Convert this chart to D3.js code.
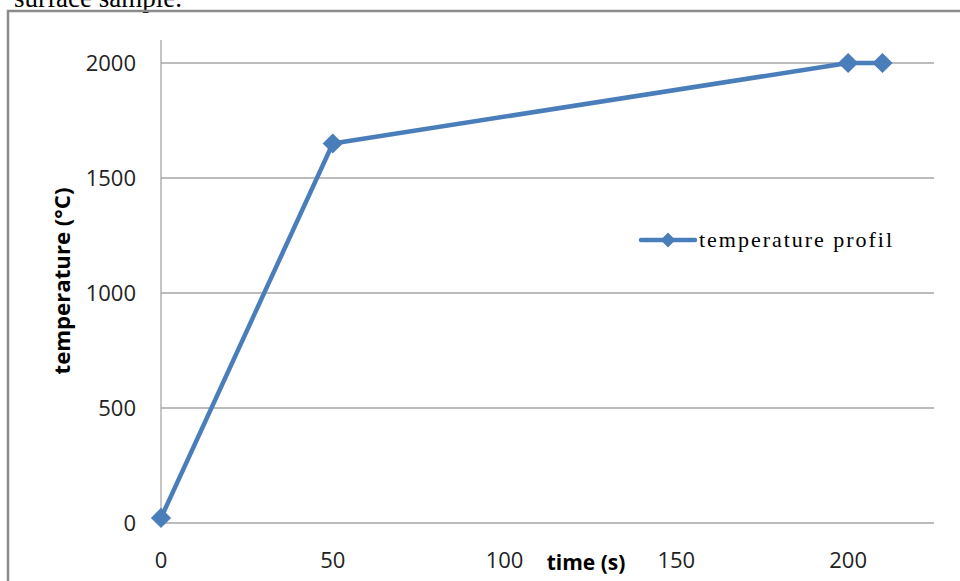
<!DOCTYPE html>
<html><head><meta charset="utf-8">
<script src="https://cdn.jsdelivr.net/npm/d3@7"></script>
<style>body{margin:0;background:#fff;}svg{display:block;}</style>
</head><body>
<svg id="c" width="960" height="581"></svg>
<script>
const times = [0, 50, 200, 210];
const temps = [22, 1650, 2000, 2000];
const xTicks = [0, 50, 100, 150, 200];
const yTicks = [0, 500, 1000, 1500, 2000];
const seriesName = "temperature profil";

const svg = d3.select("#c");
const x = d3.scaleLinear().domain([0, 225]).range([161, 934]);
const y = d3.scaleLinear().domain([0, 2000]).range([523, 63]);
const blue = "#4a7ebb";

// caption fragment above frame (cut off at the top, as in the reference)
svg.append("text").attr("x", 14).attr("y", 7).attr("font-family", "Liberation Serif")
  .attr("font-size", 27).attr("fill", "#000").text("surface sample.");

// frame
svg.append("path").attr("d", "M8,590 L8,11 L970,11").attr("fill", "none")
  .attr("stroke", "#8c8c8c").attr("stroke-width", 2.5);

// gridlines
svg.append("g").selectAll("line").data(yTicks).join("line")
  .attr("x1", x(0)).attr("x2", x(225)).attr("y1", d => y(d)).attr("y2", d => y(d))
  .attr("stroke", "#a6a6a6").attr("stroke-width", 1.3);

// y axis line
svg.append("line").attr("x1", x(0)).attr("x2", x(0)).attr("y1", 40).attr("y2", y(0))
  .attr("stroke", "#a6a6a6").attr("stroke-width", 1.3);

const font = "Open Sans, Liberation Sans, sans-serif";
svg.append("g").selectAll("text").data(yTicks).join("text")
  .attr("x", 136).attr("y", d => y(d) + 8).attr("text-anchor", "end")
  .attr("font-family", font).attr("font-size", 22).attr("fill", "#222").text(d => d);
svg.append("g").selectAll("text").data(xTicks).join("text")
  .attr("x", d => x(d)).attr("y", 568).attr("text-anchor", "middle")
  .attr("font-family", font).attr("font-size", 22).attr("fill", "#222").text(d => d);

svg.append("text").attr("x", 586).attr("y", 570).attr("text-anchor", "middle")
  .attr("font-family", font).attr("font-size", 21).attr("font-weight", "bold")
  .attr("fill", "#000").text("time (s)");
svg.append("text").attr("transform", "translate(70,281) rotate(-90)").attr("text-anchor", "middle")
  .attr("font-family", font).attr("font-size", 22).attr("font-weight", "bold")
  .attr("textLength", 187).attr("lengthAdjust", "spacingAndGlyphs")
  .attr("fill", "#000").text("temperature (°C)");

const pts = times.map((t, i) => [t, temps[i]]);
svg.append("path").datum(pts)
  .attr("d", d3.line().x(d => x(d[0])).y(d => y(d[1])))
  .attr("fill", "none").attr("stroke", blue).attr("stroke-width", 4.5).attr("stroke-linejoin", "round");

svg.append("g").selectAll("path").data(pts).join("path")
  .attr("transform", d => `translate(${x(d[0])},${y(d[1])}) rotate(45)`)
  .attr("d", d3.symbol().type(d3.symbolSquare).size(205)).attr("fill", blue);

// legend
svg.append("line").attr("x1", 641).attr("x2", 695).attr("y1", 240).attr("y2", 240)
  .attr("stroke", blue).attr("stroke-width", 4.5).attr("stroke-linecap", "round");
svg.append("path").attr("transform", "translate(668,240) rotate(45)")
  .attr("d", d3.symbol().type(d3.symbolSquare).size(110)).attr("fill", blue);
svg.append("text").attr("x", 699).attr("y", 247).attr("font-family", "Liberation Serif")
  .attr("font-size", 22).attr("textLength", 193).attr("fill", "#000").text(seriesName);
</script>
</body></html>
